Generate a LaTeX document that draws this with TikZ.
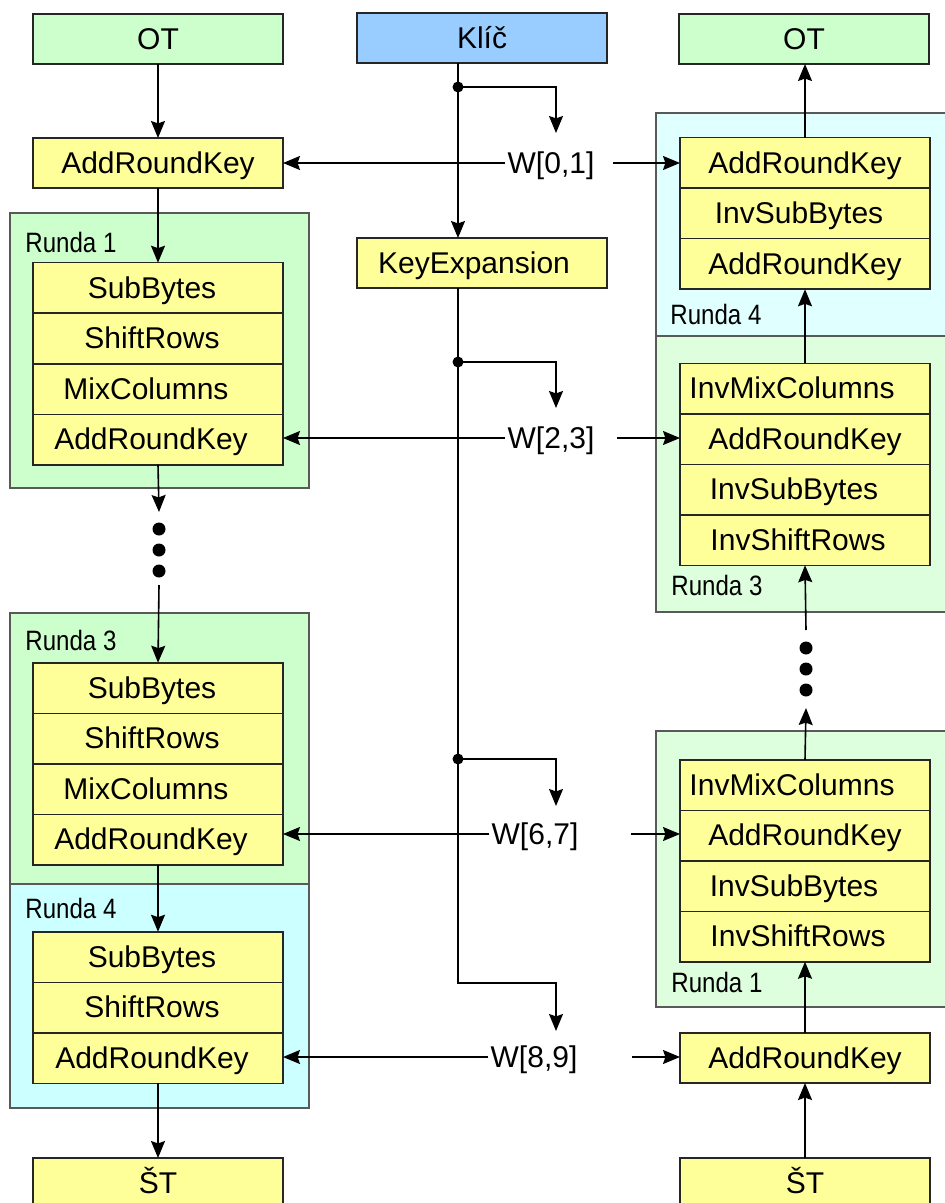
\documentclass[tikz,border=0pt]{standalone}
\usepackage{fontspec}
\setmainfont{Liberation Sans}
\newfontfamily\narrowfont[FakeStretch=0.86]{Liberation Sans}
\usetikzlibrary{arrows.meta}
\definecolor{yel}{HTML}{FFFF99}
\definecolor{grn}{HTML}{CCFFCC}
\definecolor{cyn}{HTML}{CCFFFF}
\definecolor{blu}{HTML}{99CCFF}
\definecolor{grnr}{HTML}{DDFFDD}
\definecolor{cynr}{HTML}{E0FFFF}
\begin{document}
\begin{tikzpicture}[x=0.5pt,y=-0.5pt,
  box/.style={draw=black!85, line width=0.75pt, fill=yel, minimum width=125pt, minimum height=25pt, inner sep=0pt, outer sep=0pt, font=\fontsize{15}{18}\selectfont, text height=13.6pt, text depth=3.2pt},
  rowbox/.style={box, minimum height=25.25pt},
  cont/.style={draw=black!65, line width=0.75pt, inner sep=0pt, outer sep=0pt, anchor=north west},
  arr/.style={-{Stealth[length=8.5pt,width=7pt,inset=1.2pt]}, line width=0.8pt},
  rlabel/.style={anchor=west, inner sep=0pt, font=\narrowfont\fontsize{14}{16}\selectfont},
  wlabel/.style={inner sep=1pt, font=\fontsize{15}{18}\selectfont, text height=13.6pt, text depth=3.2pt},
  bigdot/.style={circle, fill=black, inner sep=0pt, minimum size=6.5pt},
  jdot/.style={circle, fill=black, inner sep=0pt, minimum size=5.5pt}]
\useasboundingbox (0,0) rectangle (945,1203);

% containers
\node[cont, fill=grn, minimum width=149.5pt, minimum height=137.5pt] (L1box) at (10,213) {};
\node[cont, fill=grn, minimum width=149.5pt, minimum height=135.5pt] (L3box) at (10,613) {};
\node[cont, fill=cyn, minimum width=149.5pt, minimum height=112pt] (L4box) at (10,884) {};
\node[cont, fill=cynr, minimum width=147pt, minimum height=111.5pt] (R4box) at (656,113) {};
\node[cont, fill=grnr, minimum width=147pt, minimum height=138pt] (R3box) at (656,336) {};
\node[cont, fill=grnr, minimum width=147pt, minimum height=138pt] (R1box) at (656,731) {};

\node[rlabel] (L1lab) at (25,242) {Runda 1};
\node[rlabel] (L3lab) at (25,640) {Runda 3};
\node[rlabel] (L4lab) at (25,908) {Runda 4};
\node[rlabel] (R4lab) at (670,314) {Runda 4};
\node[rlabel] (R3lab) at (671,585) {Runda 3};
\node[rlabel] (R1lab) at (671,982) {Runda 1};

% left column
\node[box, fill=grn] (OT) at (158,39) {OT};
\node[box] (ARK0) at (158,163) {AddRoundKey};
\node[rowbox] (L1a) at (158,288) {SubBytes\hspace*{6pt}};
\node[rowbox] (L1b) at (158,338.5) {ShiftRows\hspace*{6pt}};
\node[rowbox] (L1c) at (158,389) {MixColumns\hspace*{12pt}};
\node[rowbox] (L1d) at (158,439.5) {AddRoundKey\hspace*{7pt}};
\node[bigdot] (Ld1) at (159,529) {};
\node[bigdot] (Ld2) at (159,550) {};
\node[bigdot] (Ld3) at (159,571) {};
\node[rowbox] (L3a) at (158,688) {SubBytes\hspace*{6pt}};
\node[rowbox] (L3b) at (158,738.5) {ShiftRows\hspace*{6pt}};
\node[rowbox] (L3c) at (158,789) {MixColumns\hspace*{12pt}};
\node[rowbox] (L3d) at (158,839.5) {AddRoundKey\hspace*{7pt}};
\node[rowbox] (L4a) at (158,957) {SubBytes\hspace*{6pt}};
\node[rowbox] (L4b) at (158,1007.5) {ShiftRows\hspace*{6pt}};
\node[rowbox] (L4c) at (158,1058) {AddRoundKey\hspace*{6pt}};
\node[box] (ST) at (158,1183) {ŠT};

% middle column
\node[box, fill=blu] (key) at (482,38) {Klíč};
\node[box] (KE) at (482,263) {KeyExpansion\hspace*{8pt}};
\coordinate (j0) at (458,87);
\coordinate (j1) at (458,362);
\coordinate (j2) at (458,759);
\coordinate (j3) at (458,983);
\coordinate (b0) at (556,133);
\coordinate (b1) at (556,408);
\coordinate (b2) at (556,806);
\coordinate (b3) at (556,1031);
\node[wlabel] (w01) at (551,163) {W[0,1]};
\node[wlabel] (w23) at (551,438) {W[2,3]};
\node[wlabel] (w67) at (535,834) {W[6,7]};
\node[wlabel] (w89) at (534,1057) {W[8,9]};
\coordinate (c0) at (613,163);
\coordinate (c1) at (617,438);
\coordinate (c2) at (631,834);
\coordinate (c3) at (632,1057);

% right column
\node[box, fill=grn] (OTr) at (804,39) {OT};
\node[rowbox] (R4a) at (805,163) {AddRoundKey};
\node[rowbox] (R4b) at (805,213.5) {InvSubBytes\hspace*{6pt}};
\node[rowbox] (R4c) at (805,264) {AddRoundKey};
\node[rowbox] (R3a) at (805,388.5) {InvMixColumns\hspace*{13pt}};
\node[rowbox] (R3b) at (805,439) {AddRoundKey};
\node[rowbox] (R3c) at (805,489.5) {InvSubBytes\hspace*{11pt}};
\node[rowbox] (R3d) at (805,540) {InvShiftRows\hspace*{7pt}};
\node[bigdot] (Rd1) at (806,648) {};
\node[bigdot] (Rd2) at (806,669) {};
\node[bigdot] (Rd3) at (806,690) {};
\coordinate (rd0) at (806,630);
\coordinate (rd1) at (806,708);
\node[rowbox] (R1a) at (805,785) {InvMixColumns\hspace*{13pt}};
\node[rowbox] (R1b) at (805,835.5) {AddRoundKey};
\node[rowbox] (R1c) at (805,886) {InvSubBytes\hspace*{11pt}};
\node[rowbox] (R1d) at (805,936.5) {InvShiftRows\hspace*{7pt}};
\node[box] (ARKr) at (805,1058) {AddRoundKey};
\node[box] (STr) at (805,1183) {ŠT};

% left connectors
\coordinate (la0) at (159,512);
\coordinate (la1) at (159,585);
\draw[arr] (OT.south) -- (ARK0.north);
\draw[arr] (ARK0.south) -- (L1a.north);
\draw[arr] (L1d.south) -- (la0);
\draw[arr] (la1) -- (L3a.north);
\draw[arr] (L3d.south) -- (L4a.north);
\draw[arr] (L4c.south) -- (ST.north);

% key connectors
\draw[arr] (key.south -| j0) -- (KE.north -| j0);
\draw[arr] (j0) -| (b0);
\draw[arr] (KE.south -| j1) -- (j3) -| (b3);
\draw[arr] (j1) -| (b1);
\draw[arr] (j2) -| (b2);
\node[jdot] (jd0) at (j0) {};
\node[jdot] (jd1) at (j1) {};
\node[jdot] (jd2) at (j2) {};

\draw[arr] (w01.west) -- (w01.west -| ARK0.east);
\draw[arr] (w23.west) -- (w23.west -| L1d.east);
\draw[arr] (w67.west) -- (w67.west -| L3d.east);
\draw[arr] (w89.west) -- (w89.west -| L4c.east);
\draw[arr] (c0) -- (c0 -| R4a.west);
\draw[arr] (c1) -- (c1 -| R3b.west);
\draw[arr] (c2) -- (c2 -| R1b.west);
\draw[arr] (c3) -- (c3 -| ARKr.west);

% right connectors
\draw[arr] (R4a.north) -- (R4a.north |- OTr.south);
\draw[arr] (R3a.north) -- (R4c.south);
\draw[arr] (rd0) -- (R3d.south);
\draw[arr] (R1a.north) -- (rd1);
\draw[arr] (ARKr.north) -- (R1d.south);
\draw[arr] (STr.north) -- (ARKr.south);
\end{tikzpicture}
\end{document}
